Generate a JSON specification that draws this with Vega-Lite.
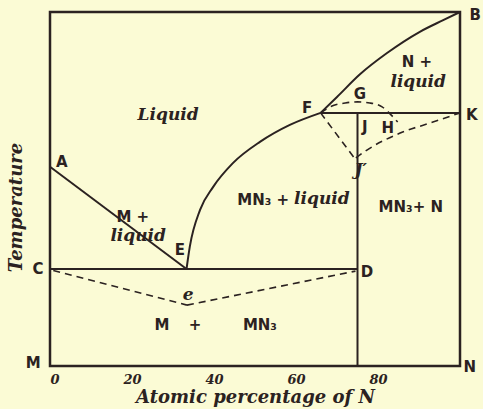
{
  "$schema": "https://vega.github.io/schema/vega-lite/v6.json",
  "width": 410,
  "height": 354,
  "autosize": {"type": "none"},
  "padding": {"left": 50, "top": 12, "right": 23, "bottom": 43},
  "background": "#fbfbd5",
  "config": {
    "view": {"stroke": "#2b2221", "strokeWidth": 2.5},
    "text": {"color": "#2b2221"}
  },
  "datasets": {
    "solid": [
      {"seg": "AE", "o": 1, "x": 0, "y": 56.3},
      {"seg": "AE", "o": 2, "x": 33.3, "y": 27.4},
      {"seg": "CD", "o": 1, "x": 0, "y": 27.4},
      {"seg": "CD", "o": 2, "x": 75, "y": 27.4},
      {"seg": "DJ", "o": 1, "x": 75, "y": 0},
      {"seg": "DJ", "o": 2, "x": 75, "y": 71.5},
      {"seg": "FK", "o": 1, "x": 66, "y": 71.5},
      {"seg": "FK", "o": 2, "x": 100, "y": 71.5},
      {"seg": "EF", "o": 1, "x": 33.3, "y": 27.4},
      {"seg": "EF", "o": 2, "x": 34.1, "y": 33.7},
      {"seg": "EF", "o": 3, "x": 36.6, "y": 44.1},
      {"seg": "EF", "o": 4, "x": 39.8, "y": 50.6},
      {"seg": "EF", "o": 5, "x": 44.6, "y": 57.3},
      {"seg": "EF", "o": 6, "x": 51.2, "y": 63.3},
      {"seg": "EF", "o": 7, "x": 58.5, "y": 68.1},
      {"seg": "EF", "o": 8, "x": 66, "y": 71.5},
      {"seg": "FB", "o": 1, "x": 66, "y": 71.5},
      {"seg": "FB", "o": 2, "x": 70, "y": 76.0},
      {"seg": "FB", "o": 3, "x": 75.6, "y": 82.4},
      {"seg": "FB", "o": 4, "x": 82.2, "y": 88.4},
      {"seg": "FB", "o": 5, "x": 90.2, "y": 94.4},
      {"seg": "FB", "o": 6, "x": 95.9, "y": 97.7},
      {"seg": "FB", "o": 7, "x": 100, "y": 100}
    ],
    "dashed": [
      {"seg": "Ce", "o": 1, "x": 0.8, "y": 27.0},
      {"seg": "Ce", "o": 2, "x": 33.4, "y": 17.2},
      {"seg": "eD", "o": 1, "x": 33.4, "y": 17.2},
      {"seg": "eD", "o": 2, "x": 74.5, "y": 26.8},
      {"seg": "FGH", "o": 1, "x": 66, "y": 71.5},
      {"seg": "FGH", "o": 2, "x": 68.5, "y": 73.3},
      {"seg": "FGH", "o": 3, "x": 72, "y": 74.3},
      {"seg": "FGH", "o": 4, "x": 75, "y": 74.6},
      {"seg": "FGH", "o": 5, "x": 78, "y": 74.3},
      {"seg": "FGH", "o": 6, "x": 81, "y": 73.2},
      {"seg": "FGH", "o": 7, "x": 83.3, "y": 70.8},
      {"seg": "FGH", "o": 8, "x": 84.8, "y": 68.9},
      {"seg": "FJ", "o": 1, "x": 66, "y": 71.5},
      {"seg": "FJ", "o": 2, "x": 74.2, "y": 58.8},
      {"seg": "JK", "o": 1, "x": 74.6, "y": 58.8},
      {"seg": "JK", "o": 2, "x": 77.3, "y": 61.0},
      {"seg": "JK", "o": 3, "x": 85.4, "y": 65.8},
      {"seg": "JK", "o": 4, "x": 93.4, "y": 68.9},
      {"seg": "JK", "o": 5, "x": 100, "y": 71.5}
    ],
    "letters": [
      {"x": 2.9, "y": 57.6, "t": "A"},
      {"x": 103.7, "y": 99.2, "t": "B"},
      {"x": -2.9, "y": 27.4, "t": "C"},
      {"x": 77.3, "y": 26.6, "t": "D"},
      {"x": 31.7, "y": 32.8, "t": "E"},
      {"x": 62.7, "y": 72.9, "t": "F"},
      {"x": 75.6, "y": 76.8, "t": "G"},
      {"x": 82.4, "y": 67.2, "t": "H"},
      {"x": 76.8, "y": 67.5, "t": "J"},
      {"x": 102.9, "y": 70.9, "t": "K"},
      {"x": -4.1, "y": 0.8, "t": "M"},
      {"x": 102.4, "y": -0.3, "t": "N"},
      {"x": 20.2, "y": 42.1, "t": "M +"},
      {"x": 89.5, "y": 85.9, "t": "N +"},
      {"x": 52.0, "y": 46.9, "t": "MN₃ +"},
      {"x": 88.0, "y": 44.9, "t": "MN₃+ N"},
      {"x": 27.3, "y": 11.6, "t": "M"},
      {"x": 35.4, "y": 11.6, "t": "+"},
      {"x": 51.2, "y": 11.6, "t": "MN₃"}
    ],
    "italics": [
      {"x": 28.8, "y": 70.9, "t": "Liquid"},
      {"x": 21.5, "y": 36.7, "t": "liquid"},
      {"x": 66.3, "y": 47.2, "t": "liquid"},
      {"x": 89.8, "y": 80.2, "t": "liquid"},
      {"x": 33.7, "y": 20.1, "t": "e"},
      {"x": 75.8, "y": 55.4, "t": "J′"}
    ]
  },
  "encoding": {
    "x": {
      "field": "x", "type": "quantitative",
      "scale": {"domain": [0, 100], "nice": false, "zero": false},
      "axis": {
        "values": [0, 20, 40, 60, 80],
        "domain": false, "ticks": false, "grid": false,
        "labelFont": "DejaVu Serif", "labelFontStyle": "italic", "labelFontWeight": "bold",
        "labelFontSize": 13, "labelColor": "#2b2221", "labelPadding": 7,
        "title": "Atomic percentage of N",
        "titleFont": "DejaVu Serif", "titleFontStyle": "italic", "titleFontWeight": 600,
        "titleFontSize": 18, "titleColor": "#2b2221", "titlePadding": 2
      }
    },
    "y": {
      "field": "y", "type": "quantitative",
      "scale": {"domain": [0, 100], "nice": false, "zero": false},
      "axis": {
        "domain": false, "ticks": false, "labels": false, "grid": false,
        "title": "Temperature",
        "titleFont": "DejaVu Serif", "titleFontStyle": "italic", "titleFontWeight": 600,
        "titleFontSize": 18, "titleColor": "#2b2221",
        "titleAngle": -90, "titleX": -34, "titleY": 195, "titleBaseline": "middle", "titleAlign": "center"
      }
    }
  },
  "layer": [
    {
      "data": {"name": "solid"},
      "mark": {"type": "line", "color": "#2b2221", "strokeWidth": 2, "interpolate": "monotone"},
      "encoding": {"detail": {"field": "seg"}, "order": {"field": "o", "type": "quantitative"}}
    },
    {
      "data": {"name": "dashed"},
      "mark": {"type": "line", "color": "#2b2221", "strokeWidth": 1.6, "strokeDash": [7, 5], "interpolate": "monotone"},
      "encoding": {"detail": {"field": "seg"}, "order": {"field": "o", "type": "quantitative"}}
    },
    {
      "data": {"name": "letters"},
      "mark": {"type": "text", "font": "DejaVu Sans", "fontSize": 15, "fontWeight": "bold", "align": "center", "baseline": "middle"},
      "encoding": {"text": {"field": "t"}}
    },
    {
      "data": {"name": "italics"},
      "mark": {"type": "text", "font": "DejaVu Serif", "fontSize": 17, "fontStyle": "italic", "fontWeight": "bold", "align": "center", "baseline": "middle"},
      "encoding": {"text": {"field": "t"}}
    }
  ]
}
